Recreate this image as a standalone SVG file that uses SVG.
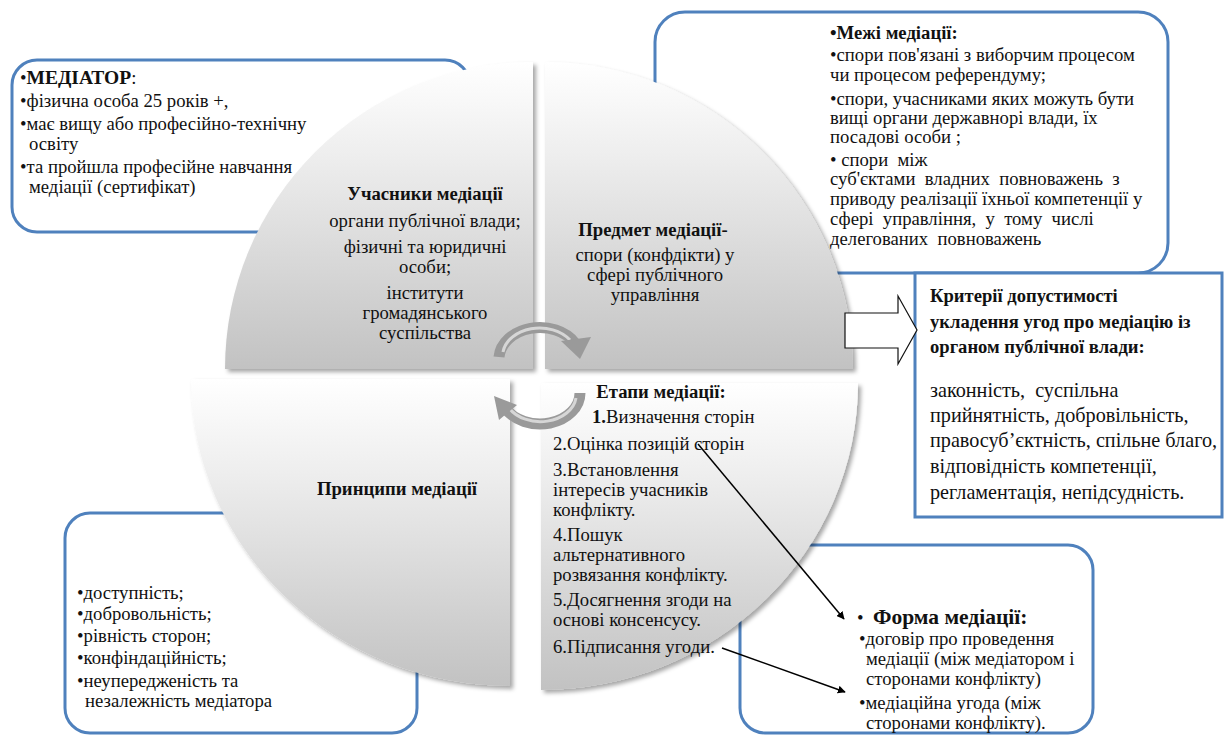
<svg xmlns="http://www.w3.org/2000/svg" width="1224" height="736" viewBox="0 0 1224 736">
<defs>
<style>
.t{font-family:"Liberation Serif","DejaVu Serif",serif;font-size:18.7px;fill:#111}
.b{font-weight:bold}
.m{text-anchor:middle}
.c{font-size:20.2px}
.cb{font-size:18.6px;font-weight:bold}
.box{fill:#fff;stroke:#4f81bd;stroke-width:3}
.q{fill:url(#qg);filter:url(#sh)}
.con{stroke:#000;stroke-width:1.5;fill:none;marker-end:url(#ah)}
.carc{fill:none;stroke:#9a9a9a;stroke-width:11}
.carc2{fill:none;stroke:#d6d6d6;stroke-width:3}
</style>
<linearGradient id="qg" x1="0" y1="0" x2="0" y2="1">
<stop offset="0" stop-color="#ffffff"/>
<stop offset="0.3" stop-color="#eeeeee"/>
<stop offset="1" stop-color="#c2c2c2"/>
</linearGradient>
<filter id="sh" x="-5%" y="-5%" width="115%" height="115%">
<feDropShadow dx="3" dy="3" stdDeviation="2" flood-color="#000" flood-opacity="0.35"/>
</filter>
<marker id="ah" viewBox="0 0 10 10" refX="9" refY="5" markerWidth="8" markerHeight="8" markerUnits="userSpaceOnUse" orient="auto">
<path d="M0,0 L10,5 L0,10 Z" fill="#000"/>
</marker>
</defs>

<g id="box-mediator">
<rect class="box" x="12" y="60" width="458" height="172" rx="25"/>
<text class="t" x="20" y="84"><tspan>•</tspan><tspan class="b" font-size="19.5">МЕДІАТОР</tspan><tspan>:</tspan></text>
<text class="t" x="20" y="107">•фізична особа 25 років +,</text>
<text class="t" x="20" y="130">•має вищу або професійно-технічну</text>
<text class="t" x="29" y="150">освіту</text>
<text class="t" x="20" y="173">•та пройшла професійне навчання</text>
<text class="t" x="29" y="193">медіації (сертифікат)</text>
</g>

<g id="box-limits">
<rect class="box" x="655" y="12" width="513" height="261" rx="30"/>
<text class="t b" x="830" y="39">•Межі медіації:</text>
<text class="t" x="830" y="61">•спори пов'язані з виборчим процесом</text>
<text class="t" x="830" y="81">чи процесом референдуму;</text>
<text class="t" x="830" y="105">•спори, учасниками яких можуть бути</text>
<text class="t" x="830" y="124">вищі органи державнорі влади, їх</text>
<text class="t" x="830" y="143">посадові особи ;</text>
<text class="t" x="830" y="166" xml:space="preserve">• спори  між</text>
<text class="t" x="830" y="185" xml:space="preserve">суб'єктами  владних  повноважень  з</text>
<text class="t" x="830" y="205">приводу реалізації їхньої компетенції у</text>
<text class="t" x="830" y="225" xml:space="preserve">сфері  управління,  у  тому  числі</text>
<text class="t" x="830" y="245" xml:space="preserve">делегованих  повноважень</text>
</g>

<g id="box-principles">
<rect class="box" x="65" y="513" width="352" height="220" rx="25"/>
<text class="t" x="77" y="599">•доступність;</text>
<text class="t" x="77" y="620">•добровольність;</text>
<text class="t" x="77" y="642">•рівність сторон;</text>
<text class="t" x="77" y="664">•конфіндаційність;</text>
<text class="t" x="77" y="687">•неупередженість та</text>
<text class="t" x="85" y="707">незалежність медіатора</text>
</g>

<g id="box-form">
<rect class="box" x="740" y="545" width="353" height="188" rx="25"/>
<text class="t" x="857" y="624"><tspan>•</tspan><tspan class="b" font-size="21.5" x="873">Форма медіації:</tspan></text>
<text class="t" x="859" y="645">•договір про проведення</text>
<text class="t" x="866" y="665">медіації (між медіатором і</text>
<text class="t" x="866" y="685">сторонами конфлікту)</text>
<text class="t" x="859" y="709">•медіаційна угода (між</text>
<text class="t" x="866" y="729">сторонами конфлікту).</text>
</g>

<g id="box-criteria">
<rect x="915" y="273" width="307" height="244" fill="#fff" stroke="#4f81bd" stroke-width="3"/>
<text class="t cb" x="930" y="302">Критерії допустимості</text>
<text class="t cb" x="930" y="328">укладення угод про медіацію із</text>
<text class="t cb" x="930" y="353">органом публічної влади:</text>
<text class="t c" x="930" y="397" xml:space="preserve">законність,  суспільна</text>
<text class="t c" x="930" y="422">прийнятність, добровільність,</text>
<text class="t c" x="930" y="447">правосуб’єктність, спільне благо,</text>
<text class="t c" x="930" y="473">відповідність компетенції,</text>
<text class="t c" x="930" y="499">регламентація, непідсудність.</text>
</g>

<g id="q-participants">
<path class="q" d="M533,369 L533,62 A308,307 0 0 0 225,369 Z"/>
<text class="t m b" x="425" y="200">Учасники медіації</text>
<text class="t m" x="425" y="227">органи публічної влади;</text>
<text class="t m" x="425" y="253">фізичні та юридичні</text>
<text class="t m" x="425" y="273">особи;</text>
<text class="t m" x="425" y="299">інститути</text>
<text class="t m" x="425" y="319">громадянського</text>
<text class="t m" x="425" y="339">суспільства</text>
</g>

<g id="q-subject">
<path class="q" d="M545,369 L545,62 A308,307 0 0 1 853,369 Z"/>
<text class="t m b" x="653" y="236">Предмет медіації-</text>
<text class="t m" x="655" y="261">спори (конфдікти) у</text>
<text class="t m" x="655" y="281">сфері публічного</text>
<text class="t m" x="655" y="301">управління</text>
</g>

<g id="q-principles">
<path class="q" d="M510,379 L510,686 A319,307 0 0 1 191,379 Z"/>
<text class="t m b" x="397" y="495">Принципи медіації</text>
</g>

<g id="q-stages">
<path class="q" d="M541,383 L858,383 A317,307 0 0 1 541,690 Z"/>
<text class="t m b" x="661" y="398">Етапи медіації:</text>
<text class="t" x="592" y="423"><tspan class="b">1.</tspan>Визначення сторін</text>
<text class="t" x="553" y="450">2.Оцінка позицій сторін</text>
<text class="t" x="553" y="476">3.Встановлення</text>
<text class="t" x="553" y="496">інтересів учасників</text>
<text class="t" x="553" y="516">конфлікту.</text>
<text class="t" x="553" y="541">4.Пошук</text>
<text class="t" x="553" y="561">альтернативного</text>
<text class="t" x="553" y="581">розвязання конфлікту.</text>
<text class="t" x="553" y="606">5.Досягнення згоди на</text>
<text class="t" x="553" y="626">основі консенсусу.</text>
<text class="t" x="553" y="653">6.Підписання угоди.</text>
</g>

<g id="connectors">
<path d="M845,313 L898,313 L898,296 L917,330 L898,364 L898,348 L845,348 Z" fill="#fff" stroke="#111" stroke-width="1.2"/>
<path class="carc" d="M499,357 A41,32 0 0 1 575,343"/>
<path class="carc2" d="M503,352 A37,28 0 0 1 570,340"/>
<polygon points="561,341 591,337 580,359" fill="#9a9a9a"/>
<path class="carc" d="M580,393 A40,31 0 0 1 505,408"/>
<path class="carc2" d="M576,398 A36,27 0 0 1 509,408"/>
<polygon points="494,396 499,420 517,405" fill="#9a9a9a"/>
<line class="con" x1="698" y1="444" x2="844" y2="619"/>
<line class="con" x1="722" y1="648" x2="845" y2="692"/>
</g>
</svg>
